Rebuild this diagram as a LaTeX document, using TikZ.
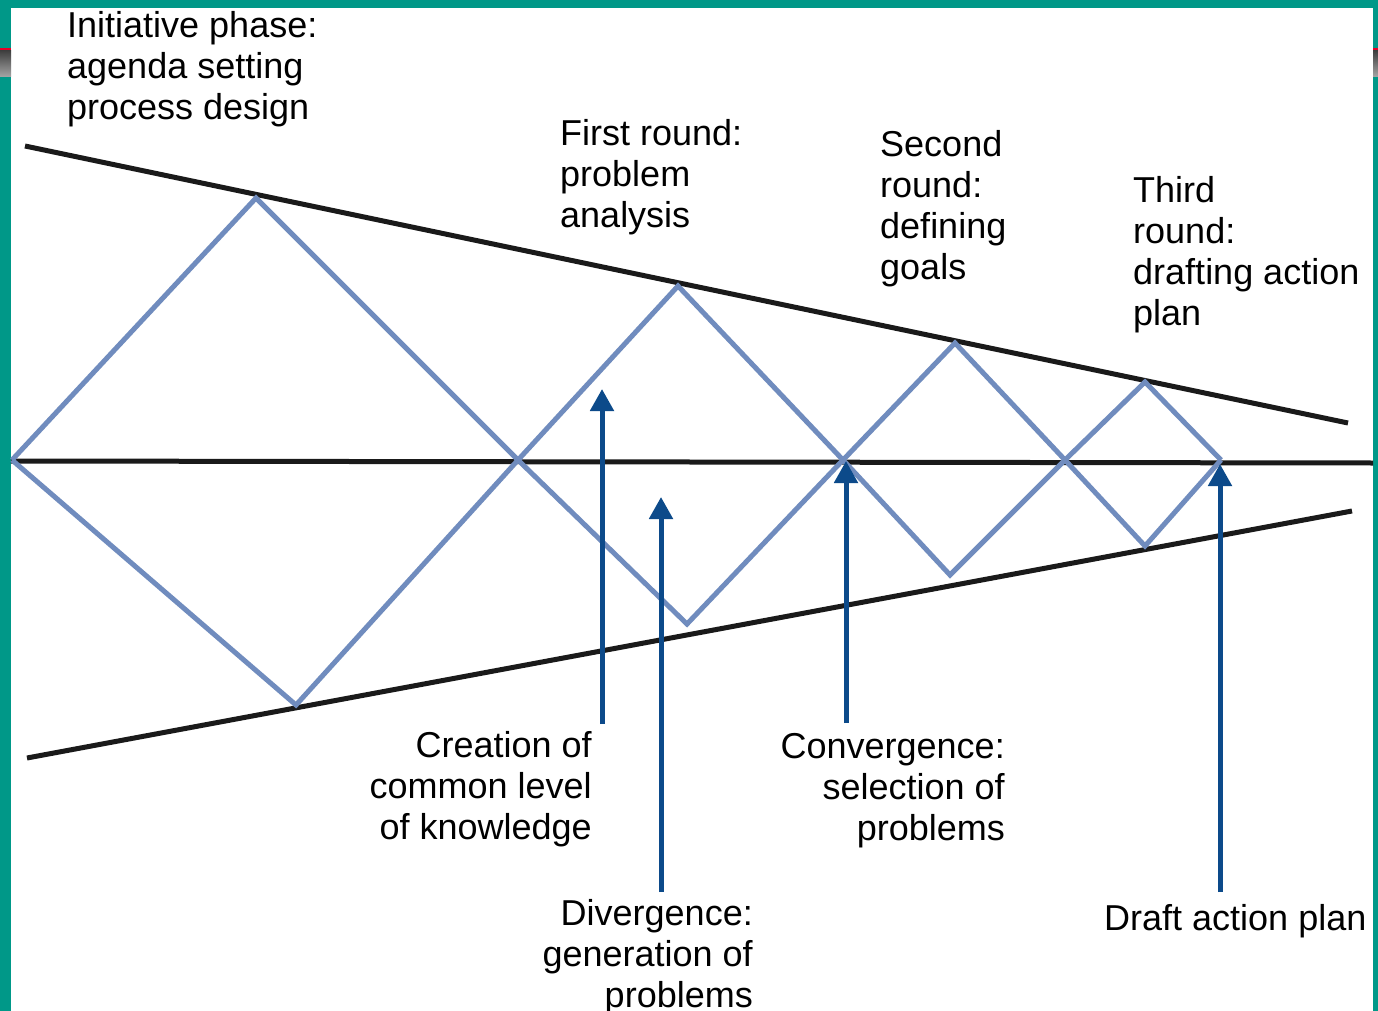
\documentclass[tikz,border=0pt]{standalone}
\usepackage{fontspec}
\setmainfont{Liberation Sans}
\usetikzlibrary{arrows.meta}
\definecolor{frameteal}{RGB}{0,152,136}
\definecolor{zigblue}{RGB}{112,140,190}
\definecolor{arrowblue}{RGB}{12,74,138}
\definecolor{lineblack}{RGB}{26,26,26}
\definecolor{markred}{RGB}{230,0,40}
\tikzset{
  bound/.style={lineblack, line width=5pt},
  zig/.style={zigblue, line width=5pt, line join=miter},
  uparrow/.style={arrowblue, line width=5pt, -{Triangle[width=23pt,length=22pt]}},
  lbl/.style={inner sep=0pt, font=\fontsize{36}{41}\selectfont},
}
\begin{document}
\begin{tikzpicture}[x=1pt,y=-1pt]
\useasboundingbox (0,0) rectangle (1378,1011);
\fill[white] (0,0) rectangle (1378,1011);
% frame
\fill[frameteal] (0,0) rectangle (1378,8);
\fill[frameteal] (0,0) rectangle (11,1011);
\fill[frameteal] (1373,0) rectangle (1378,1011);
\fill[markred] (0,48) rectangle (11,51);
\fill[markred] (1373,48) rectangle (1378,51);
\shade[top color=black!75, bottom color=black!35] (0,51) rectangle (11,77);
\shade[top color=black!75, bottom color=black!35] (1373,51) rectangle (1378,77);

% coordinates
\coordinate (ul) at (25,146);
\coordinate (ur) at (1348,423);
\coordinate (ll) at (27,758);
\coordinate (lr) at (1352,511);
\coordinate (ml) at (11,461);
\coordinate (mr) at (1373,463);

% boundary lines
\draw[bound] (ul) -- (ur);
\draw[bound] (ll) -- (lr);
\draw[bound] (ml) -- (mr);

% zigzag
\draw[zig] (12,460) -- (256,198) -- (518,460) -- (678,286) -- (843,460)
  -- (955,343) -- (1065,460) -- (1145,382) -- (1221,460);
\draw[zig] (12,460) -- (296,705) -- (518,460) -- (687,624) -- (843,460)
  -- (950,575) -- (1065,460) -- (1145,546) -- (1221,460);

% arrows
\coordinate (a1s) at (602,724);
\coordinate (a1e) at (602,389);
\coordinate (a2s) at (661,892);
\coordinate (a2e) at (661,497);
\coordinate (a3s) at (846,723);
\coordinate (a3e) at (846,461);
\coordinate (a4s) at (1220,892);
\coordinate (a4e) at (1220,464);
\draw[uparrow] (a1s) -- (a1e);
\draw[uparrow] (a2s) -- (a2e);
\draw[uparrow] (a3s) -- (a3e);
\draw[uparrow] (a4s) -- (a4e);

% labels
\node[lbl, anchor=north west, align=left] (init) at (67,11) {Initiative phase:\\agenda setting\\process design};
\node[lbl, anchor=north west, align=left] (first) at (560,119) {First round:\\problem\\analysis};
\node[lbl, anchor=north west, align=left] (second) at (880,130) {Second\\round:\\defining\\goals};
\node[lbl, anchor=north west, align=left] (third) at (1133,176) {Third\\round:\\drafting action\\plan};
\node[lbl, anchor=north east, align=right] (creation) at (592,731) {Creation of\\common level\\of knowledge};
\node[lbl, anchor=north east, align=right] (conv) at (1005,733) {Convergence:\\selection of\\problems};
\node[lbl, anchor=north east, align=right] (div) at (753,899) {Divergence:\\generation of\\problems};
\node[lbl, anchor=north west, align=left] (draft) at (1104,904) {Draft action plan};
\end{tikzpicture}
\end{document}
